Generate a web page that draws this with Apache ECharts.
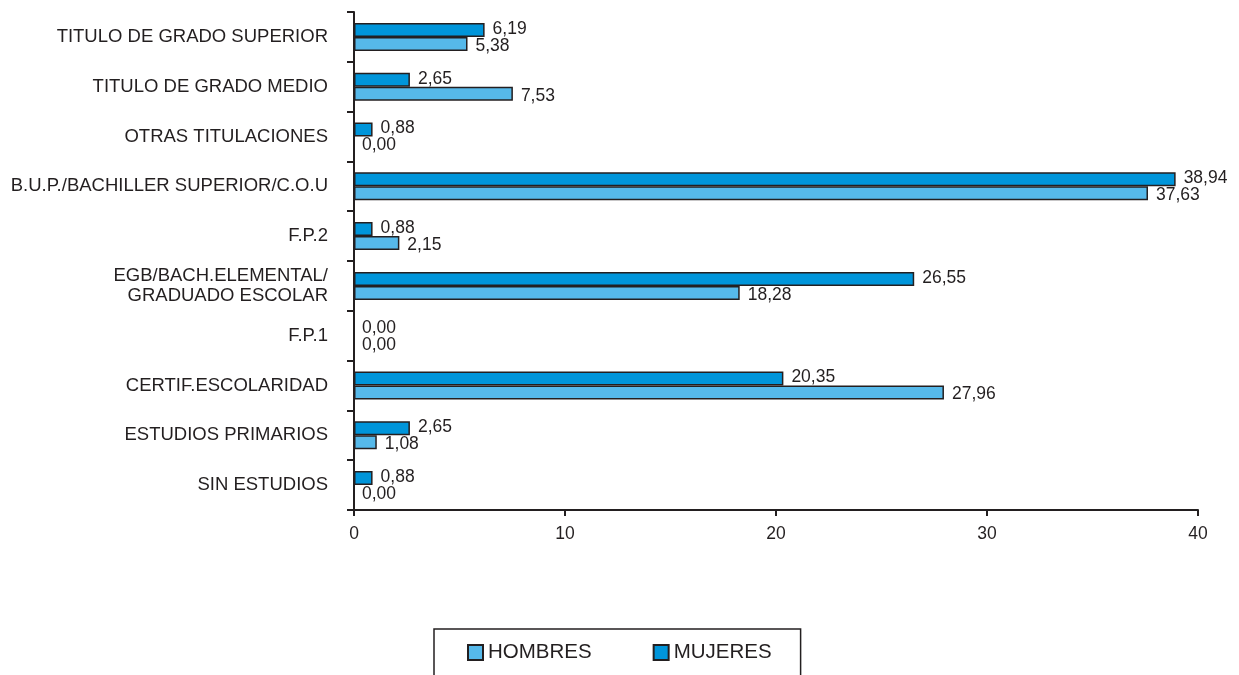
<!DOCTYPE html>
<html>
<head>
<meta charset="utf-8">
<script src="https://cdn.jsdelivr.net/npm/echarts@6/dist/echarts.min.js"></script>
<style>
html,body{margin:0;padding:0;background:#fff;}
#chart{width:1239px;height:675px;}
</style>
</head>
<body>
<div id="chart"></div>
<script>
// Categories listed bottom to top (ECharts category y-axis starts at the bottom)
const categories = [
  'SIN ESTUDIOS',
  'ESTUDIOS PRIMARIOS',
  'CERTIF.ESCOLARIDAD',
  'F.P.1',
  'EGB/BACH.ELEMENTAL/\nGRADUADO ESCOLAR',
  'F.P.2',
  'B.U.P./BACHILLER SUPERIOR/C.O.U',
  'OTRAS TITULACIONES',
  'TITULO DE GRADO MEDIO',
  'TITULO DE GRADO SUPERIOR'
];
const hombres = [0.00, 1.08, 27.96, 0.00, 18.28, 2.15, 37.63, 0.00, 7.53, 5.38];
const mujeres = [0.88, 2.65, 20.35, 0.00, 26.55, 0.88, 38.94, 0.88, 2.65, 6.19];
const xTicks = [0, 10, 20, 30, 40];

const DARK = '#231f20';
const FONT = 'Liberation Sans, Arial, sans-serif';

function toItems(arr) {
  return arr.map(v => v === 0 ? { value: v, itemStyle: { borderWidth: 0 } } : v);
}
function fmt(p) { return p.value.toFixed(2).replace('.', ','); }

const chart = echarts.init(document.getElementById('chart'));
chart.setOption({
  animation: false,
  backgroundColor: '#ffffff',
  textStyle: { fontFamily: FONT, color: DARK },
  grid: { left: 354, right: 41, top: 12, bottom: 165, containLabel: false },
  xAxis: {
    type: 'value',
    min: xTicks[0],
    max: xTicks[xTicks.length - 1],
    interval: xTicks[1] - xTicks[0],
    axisLine: { show: true, lineStyle: { color: DARK, width: 2 } },
    axisTick: { show: true, length: 6, lineStyle: { color: DARK, width: 2 } },
    splitLine: { show: false },
    axisLabel: { color: DARK, fontSize: 17.5, fontFamily: FONT, margin: 15 }
  },
  yAxis: {
    type: 'category',
    data: categories,
    axisLine: { show: true, lineStyle: { color: DARK, width: 2 } },
    axisTick: { show: true, length: 7, alignWithLabel: false, lineStyle: { color: DARK, width: 2 } },
    axisLabel: { color: DARK, fontSize: 18.5, fontFamily: FONT, margin: 26, lineHeight: 20, align: 'right' },
    splitLine: { show: false }
  },
  legend: {
    left: 434,
    top: 629,
    padding: [13, 29, 40, 33],
    borderColor: DARK,
    borderWidth: 1.5,
    itemWidth: 15,
    itemHeight: 15,
    itemGap: 61,
    icon: 'rect',
    textStyle: { color: DARK, fontSize: 20.5, fontFamily: FONT },
    data: ['HOMBRES', 'MUJERES']
  },
  series: [
    {
      name: 'MUJERES',
      type: 'bar',
      data: toItems(mujeres),
      barWidth: 14,
      barGap: '0%',
      itemStyle: { color: '#0095da', borderColor: DARK, borderWidth: 1.5 },
      label: { show: true, position: 'right', distance: 8, offset: [0, -1], color: DARK, fontSize: 17.5, fontFamily: FONT, formatter: fmt }
    },
    {
      name: 'HOMBRES',
      type: 'bar',
      data: toItems(hombres),
      barWidth: 14,
      barGap: '0%',
      itemStyle: { color: '#56b9ea', borderColor: DARK, borderWidth: 1.5 },
      label: { show: true, position: 'right', distance: 8, offset: [0, 2], color: DARK, fontSize: 17.5, fontFamily: FONT, formatter: fmt }
    }
  ]
});
</script>
</body>
</html>
